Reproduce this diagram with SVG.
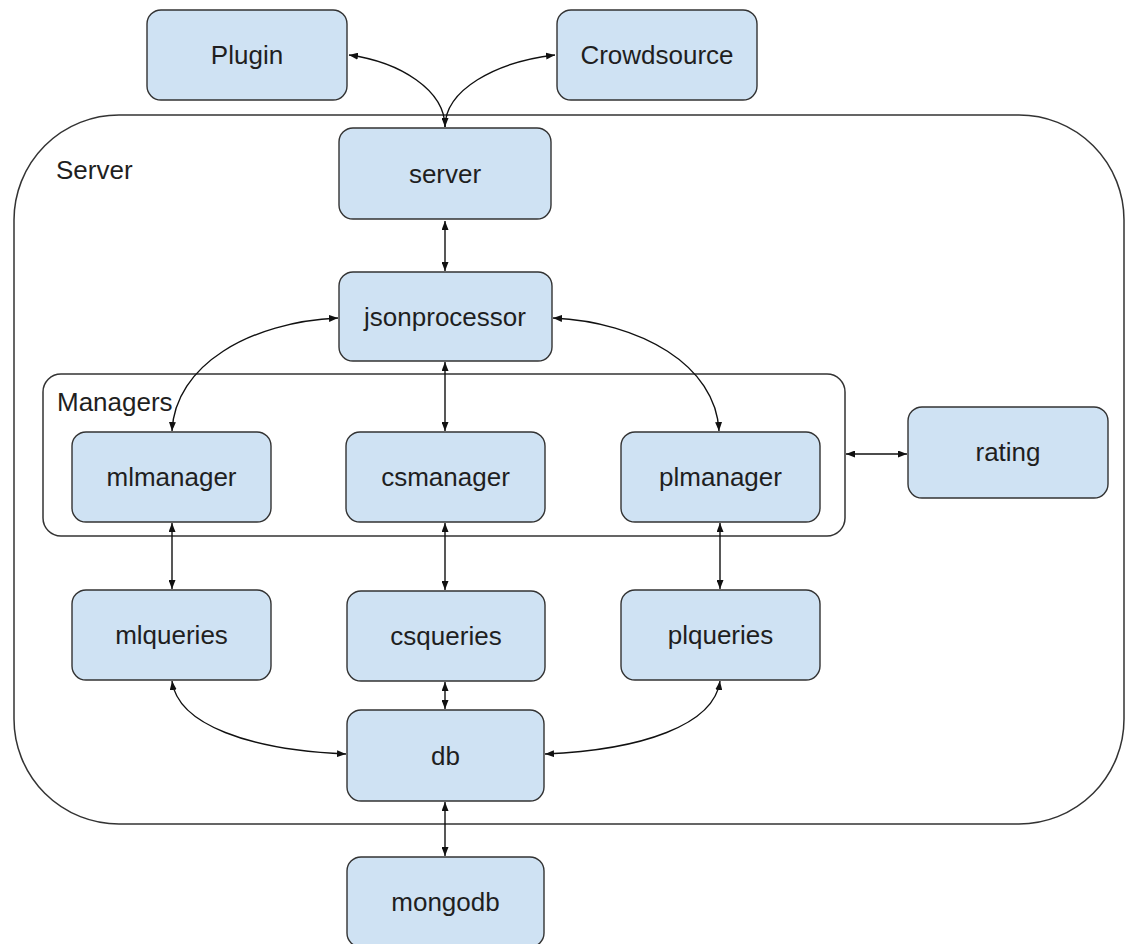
<svg xmlns="http://www.w3.org/2000/svg" width="1126" height="944" viewBox="0 0 1126 944">
<style>
.node rect{fill:#cfe2f3;stroke:#333;stroke-width:1.4}
.lbl{font-family:"Liberation Sans",Arial,sans-serif;font-size:26px;fill:#1f1f1f;text-anchor:middle}
.glbl{font-family:"Liberation Sans",Arial,sans-serif;font-size:26px;fill:#1f1f1f}
.grp{fill:none;stroke:#333;stroke-width:1.5}
.conn path{fill:none;stroke:#111;stroke-width:1.4}
</style>
<defs>
<marker id="ah" viewBox="0 0 10 10" refX="10" refY="5" markerUnits="userSpaceOnUse" markerWidth="9" markerHeight="7" orient="auto-start-reverse" preserveAspectRatio="none">
<path d="M0,0 L10,5 L0,10 z" fill="#111"/>
</marker>
</defs>
<rect width="1126" height="944" fill="#fff"/>
<g id="container-server">
<rect class="grp" x="14" y="115" width="1110" height="709" rx="105" ry="105"/>
<text class="glbl" x="56" y="179">Server</text>
</g>
<g id="container-managers">
<rect class="grp" x="43" y="374" width="802" height="162" rx="18" ry="18"/>
<text class="glbl" x="57" y="411">Managers</text>
</g>
<g id="node-plugin" class="node"><rect x="147" y="10" width="200" height="90" rx="14"/><text class="lbl" x="247" y="64">Plugin</text></g>
<g id="node-crowdsource" class="node"><rect x="557" y="10" width="200" height="90" rx="14"/><text class="lbl" x="657" y="64">Crowdsource</text></g>
<g id="node-server" class="node"><rect x="339" y="128" width="212" height="91" rx="14"/><text class="lbl" x="445" y="183">server</text></g>
<g id="node-jsonprocessor" class="node"><rect x="339" y="272" width="213" height="89" rx="14"/><text class="lbl" x="445" y="326">jsonprocessor</text></g>
<g id="node-mlmanager" class="node"><rect x="72" y="432" width="199" height="90" rx="14"/><text class="lbl" x="171.5" y="486">mlmanager</text></g>
<g id="node-csmanager" class="node"><rect x="346" y="432" width="199" height="90" rx="14"/><text class="lbl" x="445.5" y="486">csmanager</text></g>
<g id="node-plmanager" class="node"><rect x="621" y="432" width="199" height="90" rx="14"/><text class="lbl" x="720.5" y="486">plmanager</text></g>
<g id="node-rating" class="node"><rect x="908" y="407" width="200" height="91" rx="14"/><text class="lbl" x="1008" y="461">rating</text></g>
<g id="node-mlqueries" class="node"><rect x="72" y="590" width="199" height="90" rx="14"/><text class="lbl" x="171.5" y="644">mlqueries</text></g>
<g id="node-csqueries" class="node"><rect x="347" y="591" width="198" height="90" rx="14"/><text class="lbl" x="446" y="645">csqueries</text></g>
<g id="node-plqueries" class="node"><rect x="621" y="590" width="199" height="90" rx="14"/><text class="lbl" x="720.5" y="644">plqueries</text></g>
<g id="node-db" class="node"><rect x="347" y="710" width="197" height="91" rx="14"/><text class="lbl" x="445.5" y="765">db</text></g>
<g id="node-mongodb" class="node"><rect x="347" y="857" width="197" height="90" rx="14"/><text class="lbl" x="445.5" y="911">mongodb</text></g>
<g id="connectors" class="conn">
<path d="M349,55 C400,62 445,90 445,127" marker-start="url(#ah)" marker-end="url(#ah)"/>
<path d="M445,127 C445,90 495,62 555,55" marker-end="url(#ah)"/>
<path d="M445,221 L445,271" marker-start="url(#ah)" marker-end="url(#ah)"/>
<path d="M338,318 C250,322 175,365 172,431" marker-start="url(#ah)" marker-end="url(#ah)"/>
<path d="M445,362 L445,431" marker-start="url(#ah)" marker-end="url(#ah)"/>
<path d="M553,318 C640,322 716,365 719,431" marker-start="url(#ah)" marker-end="url(#ah)"/>
<path d="M846,454 L907,454" marker-start="url(#ah)" marker-end="url(#ah)"/>
<path d="M172,523 L172,589" marker-start="url(#ah)" marker-end="url(#ah)"/>
<path d="M445,523 L445,590" marker-start="url(#ah)" marker-end="url(#ah)"/>
<path d="M720,523 L720,589" marker-start="url(#ah)" marker-end="url(#ah)"/>
<path d="M172,681 C178,725 250,750 346,754" marker-start="url(#ah)" marker-end="url(#ah)"/>
<path d="M445,682 L445,709" marker-start="url(#ah)" marker-end="url(#ah)"/>
<path d="M720,681 C714,725 642,750 545,754" marker-start="url(#ah)" marker-end="url(#ah)"/>
<path d="M445,802 L445,856" marker-start="url(#ah)" marker-end="url(#ah)"/>
</g>
</svg>
